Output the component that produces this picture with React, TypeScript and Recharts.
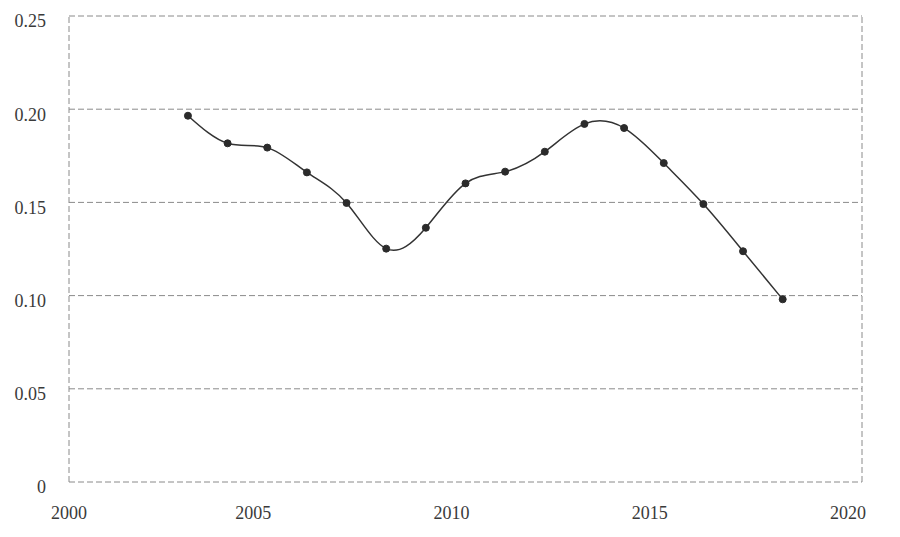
import React from 'react';
import { LineChart, Line, XAxis, YAxis, CartesianGrid, ReferenceLine } from 'recharts';

const years = [2003, 2004, 2005, 2006, 2007, 2008, 2009, 2010, 2011, 2012, 2013, 2014, 2015, 2016, 2017, 2018];
const values = [0.1965, 0.1817, 0.1794, 0.1661, 0.1497, 0.1252, 0.1364, 0.1602, 0.1665, 0.1772, 0.1921, 0.1899, 0.1711, 0.1491, 0.1238, 0.098];
const xTicks = [2000, 2005, 2010, 2015, 2020];
const yTicks = [0, 0.05, 0.1, 0.15, 0.2, 0.25];

const data = years.map((year, i) => ({ year, value: values[i] }));

const FONT = '"Liberation Serif", "Times New Roman", serif';
const GRID = '#8a8a8a';

const formatY = (v: number) => (v === 0 ? '0' : v.toFixed(2));

// labels in the source sit a little left of their gridline (except the first one)
const XTick = (props: any) => {
  const { x, y, payload } = props;
  const shift = payload.value > 2000 ? -14 : 0;
  return (
    <text x={x + shift} y={y} dy={23} textAnchor="middle" fill="#3a3a3a" fontSize={18} fontFamily={FONT}>
      {payload.value}
    </text>
  );
};

export default function App() {
  return (
    <div style={{ position: 'absolute', left: 0, top: 0, width: 900, height: 537, background: '#fff' }}>
      <LineChart width={900} height={537} data={data} margin={{ top: 16, right: 38, left: 0, bottom: 0 }}>
        <CartesianGrid vertical={false} stroke={GRID} strokeDasharray="6 3" />
        <ReferenceLine x={2000} stroke={GRID} strokeDasharray="6 3" />
        <ReferenceLine x={2020} stroke={GRID} strokeDasharray="6 3" />
        <XAxis
          dataKey="year"
          type="number"
          domain={[2000, 2020]}
          ticks={xTicks}
          height={55}
          axisLine={false}
          tickLine={false}
          tickSize={0}
          tickMargin={14}
          tick={<XTick />}
        />
        <YAxis
          type="number"
          domain={[0, 0.25]}
          ticks={yTicks}
          width={69}
          axisLine={false}
          tickLine={false}
          tickSize={0}
          tickMargin={23}
          tickFormatter={formatY}
          tick={{ fill: '#3a3a3a', fontSize: 18, fontFamily: FONT, dy: 5 }}
        />
        <Line
          type="natural"
          dataKey="value"
          stroke="#333"
          strokeWidth={1.5}
          dot={{ r: 3.5, fill: '#2b2b2b', stroke: '#2b2b2b', strokeWidth: 1 }}
          isAnimationActive={false}
        />
      </LineChart>
    </div>
  );
}
